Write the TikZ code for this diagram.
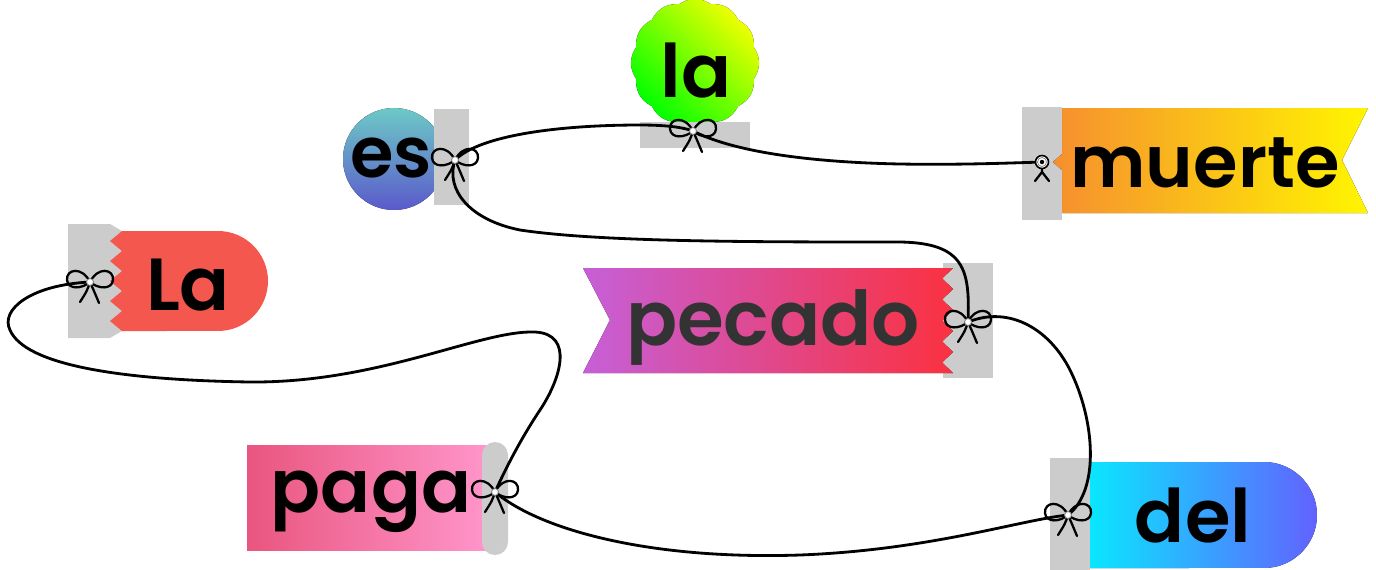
\documentclass[tikz,border=0pt]{standalone}
\usepackage{fontspec}
\setmainfont{Poppins}[BoldFont={* SemiBold}]
\usetikzlibrary{positioning,calc}
\definecolor{tagback}{HTML}{CCCCCC}
\definecolor{laredA}{HTML}{F4574D}
\definecolor{esTop}{HTML}{6CC9C6}
\definecolor{esBot}{HTML}{5B5ACB}
\definecolor{laGreen}{HTML}{00FF00}
\definecolor{laYellow}{HTML}{F0FF00}
\definecolor{muOrange}{HTML}{F68F2F}
\definecolor{muYellow}{HTML}{FFF500}
\definecolor{pePurple}{HTML}{C65FD8}
\definecolor{peRed}{HTML}{FB3140}
\definecolor{paDark}{HTML}{E9557F}
\definecolor{paLight}{HTML}{FF96CB}
\definecolor{deCyan}{HTML}{0AE6FF}
\definecolor{deBlue}{HTML}{6262FF}
\definecolor{peText}{HTML}{333333}

\begin{document}
\begin{tikzpicture}[
  x=0.02cm, y=-0.02cm,
  backing/.style={fill=tagback},
  word/.style={anchor=base, inner sep=0pt, font=\bfseries\fontsize{#1}{#1}\selectfont},
  thread/.style={line width=1.6pt, black, line cap=round},
  bowline/.style={line width=1.3pt, black, line cap=round},
  bow/.pic={
    \draw[bowline] (0,0) .. controls (-8,-16) and (-24,-13) .. (-23,-2)
                         .. controls (-22,8) and (-8,7) .. (0,0);
    \draw[bowline] (0,0) .. controls (8,-16) and (24,-13) .. (23,-2)
                         .. controls (22,8) and (8,7) .. (0,0);
    \draw[bowline] (0,0) .. controls (-3,9) .. (-10,20);
    \draw[bowline] (0,0) .. controls (4,9) .. (9,21);
    \filldraw[fill=white, draw=gray, line width=0.5pt] (0,0) circle (0.07cm);
  },
  grommet/.pic={
    \draw[bowline] (0,4) -- (0,10) -- (-7,19);
    \draw[bowline] (0,10) -- (7,19);
    \filldraw[fill=white, draw=black, line width=0.9pt] (0,0) circle (0.13cm);
    \draw[gray, line width=0.4pt] (0,0) circle (0.09cm);
    \fill[black] (0,0) circle (0.045cm);
  }
]
  \useasboundingbox (0,0) rectangle (1376,569);

  % La : zigzag tag
  \fill[backing] (68,224) -- (110,224) -- (122,231) -- (122,331) -- (110,338) -- (68,338) -- cycle;
  \fill[laredA] (122,231) -- (218,231) arc[start angle=90, end angle=-90, radius=1cm]
    -- (122,331) \foreach \i in {0,...,4} {-- (110,321-20*\i) -- (122,311-20*\i)} -- cycle;

  % es : round tag
  \fill[top color=esTop, bottom color=esBot] (394,159) circle (1.02cm);
  \fill[backing] (434,109) rectangle (469,205);

  % la : scalloped badge
  \fill[top color=laYellow, bottom color=laGreen, shading angle=-45]
    plot[domain=0:360, samples=241] ({695+(61+3*abs(cos(6*\x)))*cos(\x)}, {63+(61+3*abs(cos(6*\x)))*sin(\x)}) -- cycle;
  \fill[backing] (640,122) rectangle (750,148);

  % muerte : swallowtail banner
  \fill[backing] (1022,107) rectangle (1062,220);
  \fill[left color=muOrange, right color=muYellow]
    (1062,108) -- (1368,108) -- (1342,160) -- (1368,213) -- (1062,213)
    -- (1062,170) -- (1053,162) -- (1062,154) -- cycle;

  % pecado : banner with torn end
  \fill[backing] (943,263) rectangle (993,378);
  \fill[left color=pePurple, right color=peRed]
    (583,268) -- (953,268) \foreach \i in {0,...,4} {-- (942,278.5+21*\i) -- (953,289+21*\i)}
    -- (583,373) -- (610,320) -- cycle;

  % paga : plain tag with pill clip
  \fill[left color=paDark, right color=paLight] (247,445) rectangle (490,550);
  \fill[backing, rounded corners=0.26cm] (482,442) rectangle (508,555);

  % del : rounded tag
  \fill[backing] (1050,458) rectangle (1090,575);
  \fill[left color=deCyan, right color=deBlue]
    (1090,462) -- (1264,462) arc[start angle=90, end angle=-90, radius=1.06cm] -- (1090,568) -- cycle;

  % Words
  \node[word=42] (wLa)  at (188,310) {La};
  \node[word=40] (wes)  at (391,177) {es};
  \node[word=42] (wla)  at (696,97)  {la};
  \node[word=41] (wmu)  at (1205,187) {muerte};
  \node[word=43, text=peText] (wpe) at (773,345) {pecado};
  \node[word=42] (wpa)  at (371,512) {paga};
  \node[word=42] (wde)  at (1193,542) {del};

  % Knots
  \coordinate (kLa) at (90,282);
  \coordinate (kes) at (455,160);
  \coordinate (kla) at (693,131);
  \coordinate (kmu) at (1042,162);
  \coordinate (kpe) at (968,322);
  \coordinate (kpa) at (495,492);
  \coordinate (kde) at (1068,515);

  % The thread, in reading order
  \draw[thread] (kLa) .. controls (30,285) and (0,310) .. (10,330)
    .. controls (25,365) and (120,380) .. (250,382)
    .. controls (380,383) and (480,330) .. (535,332)
    .. controls (575,334) and (560,380) .. (540,410)
    .. controls (520,440) and (505,470) .. (kpa);
  \draw[thread] (kpa) .. controls (540,530) and (650,560) .. (800,555)
    .. controls (930,550) and (1020,520) .. (kde);
  \draw[thread] (kde) .. controls (1100,490) and (1095,420) .. (1070,370)
    .. controls (1050,330) and (1010,305) .. (kpe);
  \draw[thread] (kpe) .. controls (970,270) and (965,243) .. (900,242)
    .. controls (750,242) and (600,242) .. (520,230)
    .. controls (470,220) and (445,190) .. (kes);
  \draw[thread] (kes) .. controls (480,135) and (560,125) .. (640,125)
    .. controls (670,125) and (685,128) .. (kla);
  \draw[thread] (kla) .. controls (730,150) and (800,162) .. (900,164)
    .. controls (960,165) and (1010,163) .. (kmu);

  % Bows on the knots
  \foreach \k in {kLa,kes,kla,kpe,kpa,kde} {\pic at (\k) {bow};}
  \pic at (kmu) {grommet};
\end{tikzpicture}
\end{document}
